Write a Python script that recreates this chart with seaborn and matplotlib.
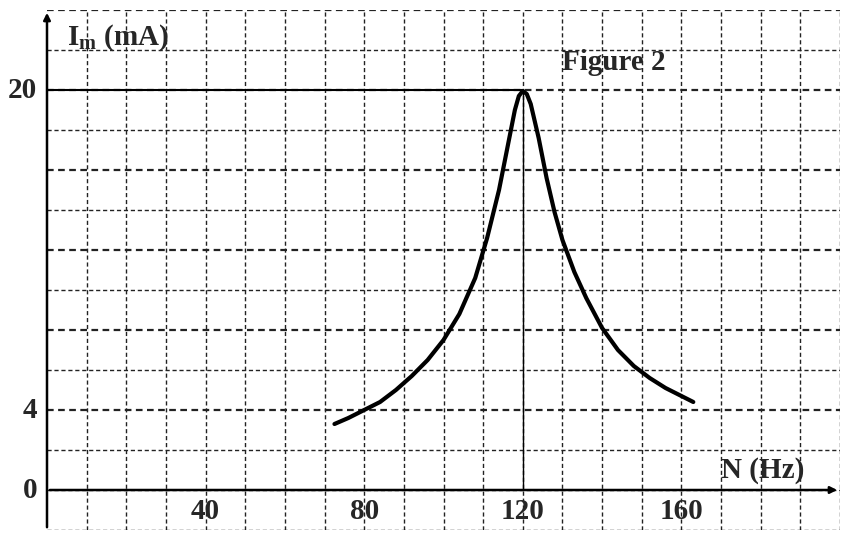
import numpy as np
import matplotlib
matplotlib.use("Agg")
import matplotlib.pyplot as plt
import seaborn as sns

# values
freq_hz = [72.5, 76, 80, 84, 88, 92, 96, 100, 104, 108, 111, 114, 116, 118, 119, 120,
           121, 122, 124, 126, 128, 130, 133, 136, 140, 144, 148, 152, 156, 160, 163]
current_ma = [3.3, 3.6, 4.0, 4.4, 5.0, 5.7, 6.5, 7.5, 8.8, 10.6, 12.6, 15.0, 17.0, 19.0, 19.7, 19.95,
              19.8, 19.3, 17.6, 15.6, 13.9, 12.5, 10.9, 9.6, 8.1, 7.0, 6.2, 5.6, 5.1, 4.7, 4.4]
x_ticks = [40, 80, 120, 160]
y_ticks = [0, 4, 20]

sns.set_style("white")
fig = plt.figure(figsize=(8.57, 5.48), dpi=100)
ax = fig.add_axes([47 / 857, 18 / 548, 793 / 857, 520 / 548])
ax.set_xlim(0, 200)
ax.set_ylim(-2, 24)

for gx in np.arange(10, 201, 10):
    ax.axvline(gx, color="#222222", lw=1.0, ls=(0, (3, 2)), zorder=1)
for gy in np.arange(-2, 24.1, 2):
    heavy = gy > 0 and gy % 4 == 0
    ax.axhline(gy, color="#222222", lw=1.6 if heavy else 1.0, ls=(0, (3, 2)), zorder=1)
for s in ax.spines.values():
    s.set_visible(False)
ax.set_xticks([])
ax.set_yticks([])

ax.annotate("", xy=(200, 0), xytext=(0, 0),
            arrowprops=dict(arrowstyle="-|>", color="black", lw=1.8), zorder=3)
ax.annotate("", xy=(0, 24), xytext=(0, -2),
            arrowprops=dict(arrowstyle="-|>", color="black", lw=1.8), zorder=3)
ax.plot([0, 120], [20, 20], color="black", lw=1.5, zorder=3)
ax.plot([120, 120], [0, 20], color="black", lw=1.0, zorder=3)

sns.lineplot(x=freq_hz, y=current_ma, ax=ax, color="black", lw=3, sort=False, zorder=4)

font = dict(family="Liberation Serif", fontweight="bold", fontsize=21)
for t in x_ticks:
    ax.text(t, -0.4, str(t), ha="center", va="top", **font)
for t in y_ticks:
    ax.text(-2.5, t, str(t), ha="right", va="center", **font)
ax.text(5, 22.6, "I$_\\mathregular{m}$ (mA)", ha="left", va="center", **font)
ax.text(170, 0.3, "N (Hz)", ha="left", va="bottom", **font)
ax.text(130, 21.4, "Figure 2", ha="left", va="center", **font)

fig.savefig("out.png", dpi=100)
